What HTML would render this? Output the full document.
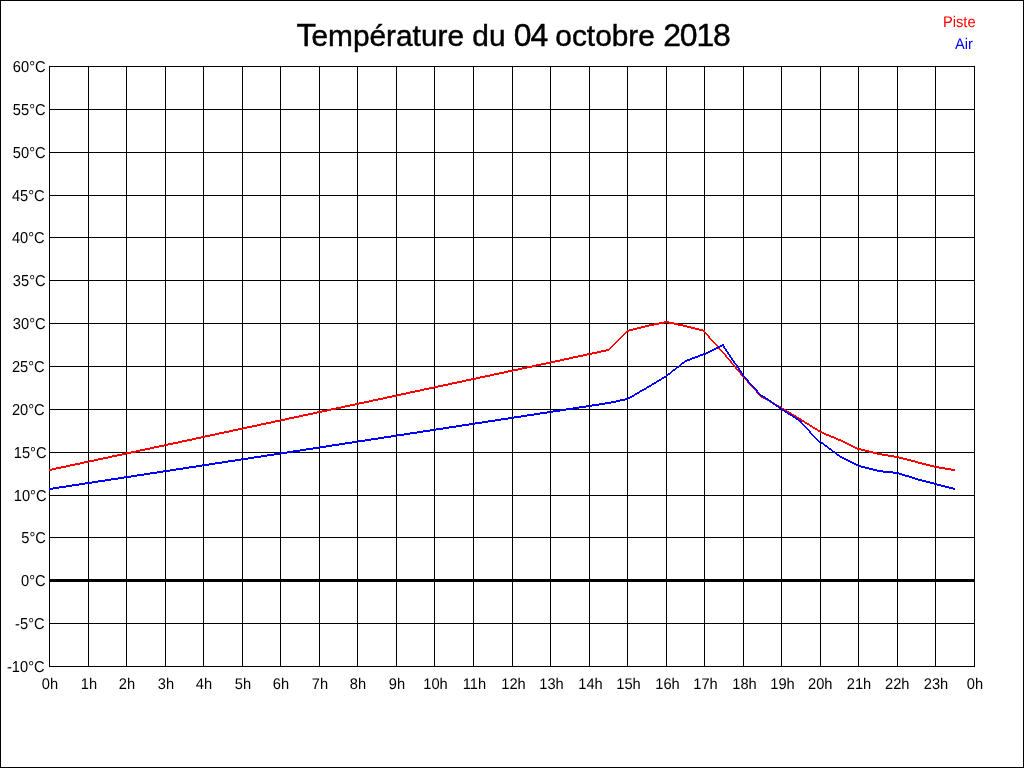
<!DOCTYPE html>
<html lang="fr">
<head>
<meta charset="utf-8">
<title>Température du 04 octobre 2018</title>
<style>
html,body{margin:0;padding:0;background:#fff;}
body{width:1024px;height:768px;overflow:hidden;}
svg{display:block;}
text{font-family:"Liberation Sans",Arial,sans-serif;}
.yl,.xl,.lg{text-rendering:geometricPrecision;}
.yl{font-size:14.67px;text-anchor:end;fill:#000;}
.xl{font-size:14.67px;text-anchor:middle;fill:#000;}
.lg{font-size:14.67px;text-anchor:end;}
.title{font-size:29.85px;text-anchor:start;fill:#000;stroke:#000;stroke-width:0.45px;}
</style>
</head>
<body>
<svg width="1024" height="768" viewBox="0 0 1024 768">
<rect x="0" y="0" width="1024" height="768" fill="#fff"/>
<g shape-rendering="crispEdges">
<rect x="0.5" y="0.5" width="1023" height="767" fill="none" stroke="#000" stroke-width="1"/>
<g stroke="#000" stroke-width="1">
<line x1="49.5" y1="66" x2="49.5" y2="667"/>
<line x1="88.5" y1="66" x2="88.5" y2="667"/>
<line x1="126.5" y1="66" x2="126.5" y2="667"/>
<line x1="165.5" y1="66" x2="165.5" y2="667"/>
<line x1="203.5" y1="66" x2="203.5" y2="667"/>
<line x1="242.5" y1="66" x2="242.5" y2="667"/>
<line x1="280.5" y1="66" x2="280.5" y2="667"/>
<line x1="319.5" y1="66" x2="319.5" y2="667"/>
<line x1="357.5" y1="66" x2="357.5" y2="667"/>
<line x1="396.5" y1="66" x2="396.5" y2="667"/>
<line x1="434.5" y1="66" x2="434.5" y2="667"/>
<line x1="473.5" y1="66" x2="473.5" y2="667"/>
<line x1="512.5" y1="66" x2="512.5" y2="667"/>
<line x1="550.5" y1="66" x2="550.5" y2="667"/>
<line x1="589.5" y1="66" x2="589.5" y2="667"/>
<line x1="627.5" y1="66" x2="627.5" y2="667"/>
<line x1="666.5" y1="66" x2="666.5" y2="667"/>
<line x1="704.5" y1="66" x2="704.5" y2="667"/>
<line x1="743.5" y1="66" x2="743.5" y2="667"/>
<line x1="781.5" y1="66" x2="781.5" y2="667"/>
<line x1="820.5" y1="66" x2="820.5" y2="667"/>
<line x1="858.5" y1="66" x2="858.5" y2="667"/>
<line x1="897.5" y1="66" x2="897.5" y2="667"/>
<line x1="935.5" y1="66" x2="935.5" y2="667"/>
<line x1="974.5" y1="66" x2="974.5" y2="667"/>
<line x1="49" y1="666.5" x2="975" y2="666.5"/>
<line x1="49" y1="623.5" x2="975" y2="623.5"/>
<line x1="49" y1="537.5" x2="975" y2="537.5"/>
<line x1="49" y1="495.5" x2="975" y2="495.5"/>
<line x1="49" y1="452.5" x2="975" y2="452.5"/>
<line x1="49" y1="409.5" x2="975" y2="409.5"/>
<line x1="49" y1="366.5" x2="975" y2="366.5"/>
<line x1="49" y1="323.5" x2="975" y2="323.5"/>
<line x1="49" y1="280.5" x2="975" y2="280.5"/>
<line x1="49" y1="237.5" x2="975" y2="237.5"/>
<line x1="49" y1="195.5" x2="975" y2="195.5"/>
<line x1="49" y1="152.5" x2="975" y2="152.5"/>
<line x1="49" y1="109.5" x2="975" y2="109.5"/>
<line x1="49" y1="66.5" x2="975" y2="66.5"/>
</g>
<rect x="49" y="579" width="926" height="3" fill="#000"/>
<g fill="#ff0000"><polygon points="49.00,469.11 609.00,348.89 609.00,350.89 49.00,471.11"/>
<polygon points="608.00,349.50 628.00,329.50 628.00,331.50 608.00,351.50"/>
<polygon points="627.00,330.13 647.00,324.87 647.00,326.87 627.00,332.13"/>
<polygon points="646.00,325.10 667.00,320.90 667.00,322.90 646.00,327.10"/>
<polygon points="666.00,320.89 686.00,325.11 686.00,327.11 666.00,322.89"/>
<polygon points="685.00,324.87 705.00,330.13 705.00,332.13 685.00,326.87"/>
<polygon points="702.55,331.00 704.55,331.00 724.45,353.00 722.45,353.00"/>
<polygon points="721.58,352.00 723.58,352.00 745.42,378.00 743.42,378.00"/>
<polygon points="742.55,377.00 744.55,377.00 763.45,398.00 761.45,398.00"/>
<polygon points="762.00,395.71 782.00,407.29 782.00,409.29 762.00,397.71"/>
<polygon points="781.00,406.70 802.00,419.30 802.00,421.30 781.00,408.70"/>
<polygon points="801.00,418.68 821.00,431.32 821.00,433.32 801.00,420.68"/>
<polygon points="820.00,430.79 840.00,439.21 840.00,441.21 820.00,432.79"/>
<polygon points="839.00,438.76 859.00,448.24 859.00,450.24 839.00,440.76"/>
<polygon points="858.00,447.88 879.00,453.12 879.00,455.12 858.00,449.88"/>
<polygon points="878.00,452.92 898.00,456.08 898.00,458.08 878.00,454.92"/>
<polygon points="897.00,455.87 917.00,461.13 917.00,463.13 897.00,457.87"/>
<polygon points="916.00,460.87 936.00,466.13 936.00,468.13 916.00,462.87"/>
<polygon points="935.00,465.92 955.00,469.08 955.00,471.08 935.00,467.92"/></g>
<g fill="#0000ff"><polygon points="49.00,488.08 609.00,401.92 609.00,403.92 49.00,490.08"/>
<polygon points="608.00,402.11 628.00,397.89 628.00,399.89 608.00,404.11"/>
<polygon points="627.00,398.29 647.00,386.71 647.00,388.71 627.00,400.29"/>
<polygon points="646.00,387.30 667.00,374.70 667.00,376.70 646.00,389.30"/>
<polygon points="666.00,375.39 686.00,359.61 686.00,361.61 666.00,377.39"/>
<polygon points="685.00,360.18 705.00,352.82 705.00,354.82 685.00,362.18"/>
<polygon points="704.00,353.24 724.00,343.76 724.00,345.76 704.00,355.24"/>
<polygon points="721.66,345.00 723.66,345.00 745.34,377.00 743.34,377.00"/>
<polygon points="742.55,376.00 744.55,376.00 763.45,397.00 761.45,397.00"/>
<polygon points="762.00,394.66 782.00,408.34 782.00,410.34 762.00,396.66"/>
<polygon points="781.00,407.68 802.00,421.32 802.00,423.32 781.00,409.68"/>
<polygon points="799.52,422.00 801.52,422.00 821.48,443.00 819.48,443.00"/>
<polygon points="820.00,440.63 840.00,455.37 840.00,457.37 820.00,442.63"/>
<polygon points="839.00,454.74 859.00,465.26 859.00,467.26 839.00,456.74"/>
<polygon points="858.00,464.88 879.00,470.12 879.00,472.12 858.00,466.88"/>
<polygon points="878.00,469.95 898.00,472.05 898.00,474.05 878.00,471.95"/>
<polygon points="897.00,471.84 917.00,478.16 917.00,480.16 897.00,473.84"/>
<polygon points="916.00,477.87 936.00,483.13 936.00,485.13 916.00,479.87"/>
<polygon points="935.00,482.87 955.00,488.13 955.00,490.13 935.00,484.87"/></g>
</g>
<g>
<text class="yl" transform="translate(45.6 72) scale(1 1.08)">60°C</text>
<text class="yl" transform="translate(45.6 115) scale(1 1.08)">55°C</text>
<text class="yl" transform="translate(45.6 158) scale(1 1.08)">50°C</text>
<text class="yl" transform="translate(44.7 201) scale(1 1.08)">45°C</text>
<text class="yl" transform="translate(44.7 243) scale(1 1.08)">40°C</text>
<text class="yl" transform="translate(45.6 286) scale(1 1.08)">35°C</text>
<text class="yl" transform="translate(45.6 329) scale(1 1.08)">30°C</text>
<text class="yl" transform="translate(44.7 372) scale(1 1.08)">25°C</text>
<text class="yl" transform="translate(44.7 415) scale(1 1.08)">20°C</text>
<text class="yl" transform="translate(46.5 458) scale(1 1.08)">15°C</text>
<text class="yl" transform="translate(46.5 501) scale(1 1.08)">10°C</text>
<text class="yl" transform="translate(45.9 543) scale(1 1.08)">5°C</text>
<text class="yl" transform="translate(45.6 586) scale(1 1.08)">0°C</text>
<text class="yl" transform="translate(44.6 629) scale(1 1.08)">-5°C</text>
<text class="yl" transform="translate(44.6 672) scale(1 1.08)">-10°C</text>
</g><g>
<text class="xl" transform="translate(50 689) scale(1 1.05)">0h</text>
<text class="xl" transform="translate(89 689) scale(1 1.05)">1h</text>
<text class="xl" transform="translate(127 689) scale(1 1.05)">2h</text>
<text class="xl" transform="translate(166 689) scale(1 1.05)">3h</text>
<text class="xl" transform="translate(204 689) scale(1 1.05)">4h</text>
<text class="xl" transform="translate(243 689) scale(1 1.05)">5h</text>
<text class="xl" transform="translate(281 689) scale(1 1.05)">6h</text>
<text class="xl" transform="translate(320 689) scale(1 1.05)">7h</text>
<text class="xl" transform="translate(358 689) scale(1 1.05)">8h</text>
<text class="xl" transform="translate(397 689) scale(1 1.05)">9h</text>
<text class="xl" transform="translate(435.5 689) scale(1 1.05)">10h</text>
<text class="xl" transform="translate(474.5 689) scale(1 1.05)">11h</text>
<text class="xl" transform="translate(513.5 689) scale(1 1.05)">12h</text>
<text class="xl" transform="translate(551.5 689) scale(1 1.05)">13h</text>
<text class="xl" transform="translate(590.5 689) scale(1 1.05)">14h</text>
<text class="xl" transform="translate(628.5 689) scale(1 1.05)">15h</text>
<text class="xl" transform="translate(667.5 689) scale(1 1.05)">16h</text>
<text class="xl" transform="translate(705.5 689) scale(1 1.05)">17h</text>
<text class="xl" transform="translate(744.5 689) scale(1 1.05)">18h</text>
<text class="xl" transform="translate(782.5 689) scale(1 1.05)">19h</text>
<text class="xl" transform="translate(820.25 689) scale(1 1.05)">20h</text>
<text class="xl" transform="translate(859 689) scale(1 1.05)">21h</text>
<text class="xl" transform="translate(897.25 689) scale(1 1.05)">22h</text>
<text class="xl" transform="translate(936 689) scale(1 1.05)">23h</text>
<text class="xl" transform="translate(975 689) scale(1 1.05)">0h</text>
</g>
<text class="title" x="296.5" y="46"><tspan font-size="31.94" letter-spacing="-4.6">T</tspan>empérature du <tspan font-size="31.94" letter-spacing="-1.16">04</tspan> octobre <tspan font-size="31.94" letter-spacing="-1.16">2018</tspan></text>
<text class="lg" transform="translate(975.6 27) scale(1 1.05)" fill="#ff0000">Piste</text>
<text class="lg" transform="translate(973 49) scale(1 1.05)" fill="#0000ff">Air</text>
</svg>
</body>
</html>
